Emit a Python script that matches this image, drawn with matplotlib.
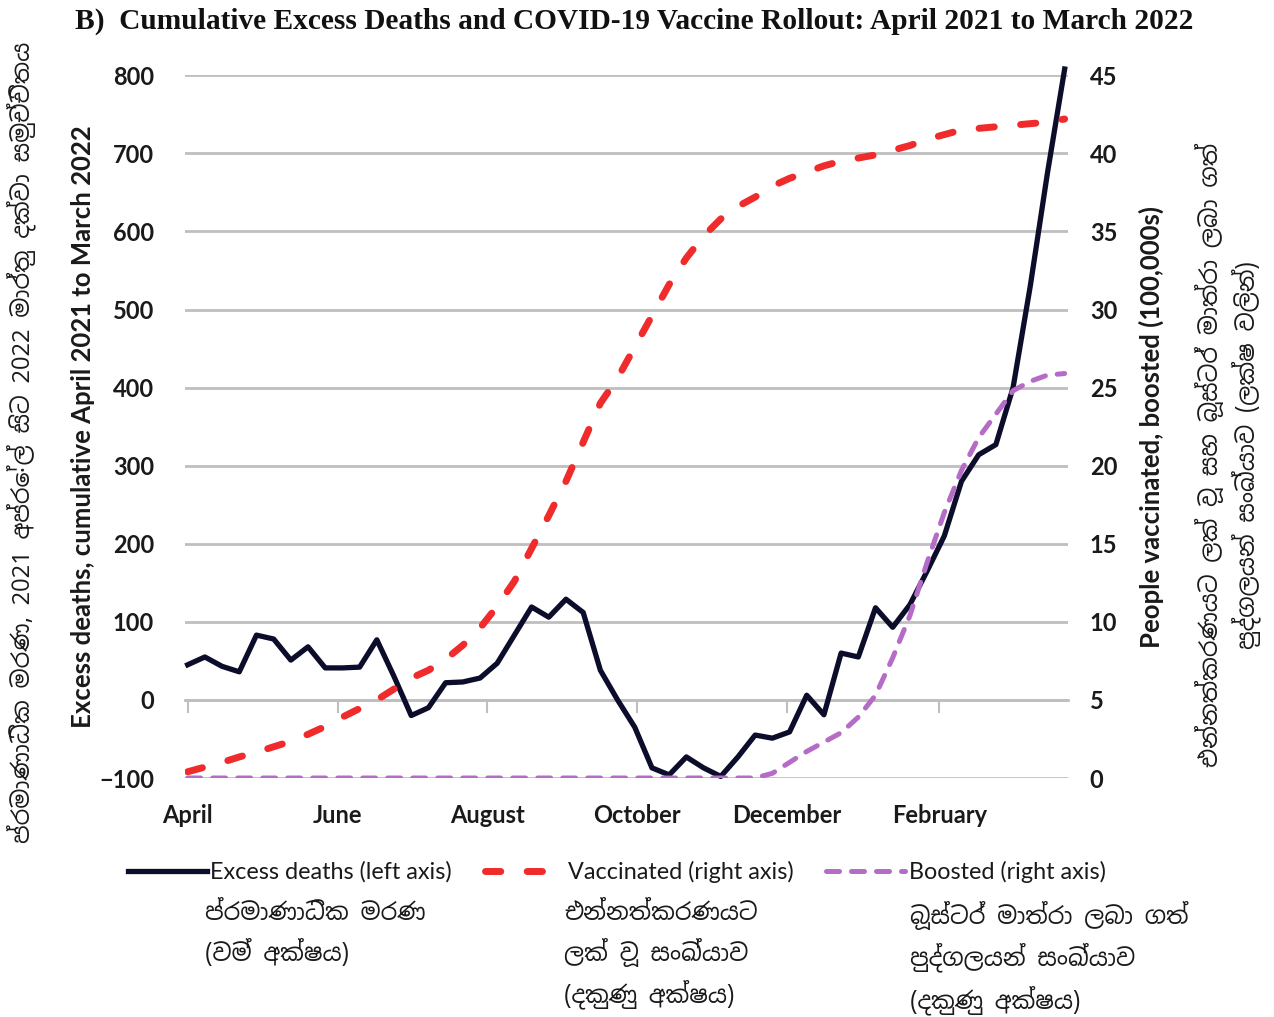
import pandas as pd
import matplotlib
matplotlib.use('Agg')
import matplotlib.pyplot as plt
import matplotlib.dates as mdates
from matplotlib import font_manager
from matplotlib.ft2font import FT2Font

# weekly series, April 2021 - March 2022
weeks = pd.date_range('2021-04-01', periods=52, freq='7D')

excess_deaths = [45, 55, 43, 36, 83, 78, 51, 68, 41, 41, 42, 77, 30, -20, -10, 22,
                 23, 28, 47, 83, 119, 106, 129, 112, 38, 0, -35, -87, -96, -73, -87, -98,
                 -73, -45, -49, -41, 6, -19, 60, 55, 118, 93, 122, 165, 210, 280,
                 314, 327, 400, 530, 675, 808]

vaccinated = [0.4, 0.7, 1.0, 1.35, 1.65, 2.0, 2.35, 2.8, 3.3, 3.9, 4.45, 5.0, 5.7, 6.4,
              6.9, 7.6, 8.5, 9.6, 11.0, 12.6, 14.7, 16.8, 19.0, 21.5, 24.0, 25.6, 27.6,
              29.6, 31.6, 33.3, 34.7, 35.8, 36.6, 37.2, 37.9, 38.4, 38.8, 39.2, 39.5,
              39.7, 39.9, 40.2, 40.5, 40.9, 41.2, 41.5, 41.6, 41.7, 41.8, 41.9, 42.0, 42.2]

boosted = [0] * 34 + [0.3, 1.0, 1.7, 2.3, 2.9, 3.9, 5.3, 7.7, 10.4, 13.8, 17.0, 19.7,
                      21.8, 23.3, 24.8, 25.4, 25.8, 25.9]

month_ticks = pd.to_datetime(['2021-04-01', '2021-06-01', '2021-08-01',
                              '2021-10-01', '2021-12-01', '2022-02-01'])
month_labels = ['April', 'June', 'August', 'October', 'December', 'February']

title = 'B)  Cumulative Excess Deaths and COVID-19 Vaccine Rollout: April 2021 to March 2022'
left_label = 'Excess deaths, cumulative April 2021 to March 2022'
right_label = 'People vaccinated, boosted (100,000s)'
legend_labels = ['Excess deaths (left axis)', 'Vaccinated (right axis)', 'Boosted (right axis)']

# Sinhala translations (zero width joiners dropped, no shaping engine to use them)
si_left = 'ප්රමාණාධික මරණ, 2021 අප්රේල් සිට 2022 මාර්තු දක්වා සමුච්චිතය'
si_right = 'එන්නත්කරණයට ලක් වූ සහ බූස්ටර් මාත්රා ලබා ගත්\nපුද්ගලයන් සංඛ්යාව (ලක්ෂ වලින්)'
si_notes = ['ප්රමාණාධික මරණ\n(වම් අක්ෂය)',
            'එන්නත්කරණයට\nලක් වූ සංඛ්යාව\n(දකුණු අක්ෂය)',
            'බූස්ටර් මාත්රා ලබා ගත්\nපුද්ගලයන් සංඛ්යාව\n(දකුණු අක්ෂය)']


def sinhala_font():
    # pick an installed font that has Sinhala letters, prefer a proportional one
    found = []
    for f in font_manager.fontManager.ttflist:
        try:
            cmap = FT2Font(f.fname).get_charmap()
        except Exception:
            continue
        if ord('ම') in cmap and ord('ක') in cmap:
            found.append(f)
    if not found:
        return 'DejaVu Sans'
    found.sort(key=lambda f: ('mono' in f.name.lower(), 'sinhala' not in f.name.lower(),
                              f.weight not in (400, 'normal', 'regular'), f.style != 'normal'))
    return found[0].name


si_family = [sinhala_font(), 'DejaVu Sans']

plt.rcParams['font.family'] = ['Lato', 'DejaVu Sans']
grid_c = '#bfbfbf'
text_c = '#1a1a1a'

x = mdates.date2num(weeks)
xt = mdates.date2num(month_ticks)

fig = plt.figure(figsize=(12.74, 10.17), dpi=100)
ax = fig.add_axes([0.145, 0.235, 0.693, 0.691])
ax2 = ax.twinx()

l1, = ax.plot(x, excess_deaths, color='#0b0d2a', lw=3.8, solid_joinstyle='round',
              zorder=3, clip_on=False)
l2, = ax2.plot(x, vaccinated, color='#f02b2b', lw=5, dash_capstyle='round',
               dashes=(2.2, 3.8), zorder=3)
l3, = ax2.plot(x, boosted, color='#b56cc6', lw=3.6, dash_capstyle='round',
               dashes=(2.6, 2.4), zorder=4)

ax.set_xlim(x[0] - 1.2, x[-1] + 1.2)
ax.set_ylim(-100, 800)
ax.set_yticks(range(-100, 801, 100))
ax2.set_ylim(0, 45)
ax2.set_yticks(range(0, 46, 5))

ax.grid(axis='y', color=grid_c, lw=2)
ax.set_axisbelow(True)
for s in ['left', 'right', 'top']:
    ax.spines[s].set_visible(False)
    ax2.spines[s].set_visible(False)
ax2.spines['bottom'].set_visible(False)
ax.spines['bottom'].set_position(('data', 0))
ax.spines['bottom'].set_color(grid_c)
ax.spines['bottom'].set_linewidth(2)

ax.set_xticks(xt)
ax.tick_params(axis='x', length=9, width=1.5, color=grid_c, labelbottom=False)
ax.tick_params(axis='y', length=0, pad=22, labelsize=17, labelcolor=text_c)
ax2.tick_params(axis='y', length=0, pad=16, labelsize=17, labelcolor=text_c)
for t in ax.get_yticklabels() + ax2.get_yticklabels():
    t.set_fontweight('bold')

# month labels sit at the bottom of the plot area
secx = ax.secondary_xaxis('bottom')
secx.set_xticks(xt, labels=month_labels)
secx.tick_params(length=0, pad=19, labelsize=17, labelcolor=text_c)
secx.spines['bottom'].set_visible(False)
for t in secx.get_xticklabels():
    t.set_fontweight('bold')

ax.set_ylabel(left_label, fontsize=18.5, fontweight='bold', color=text_c, labelpad=3)
ax2.set_ylabel(right_label, fontsize=18.5, fontweight='bold', color=text_c, labelpad=15)

fig.text(0.059, 0.979, title, fontfamily='Liberation Serif', fontweight='bold',
         fontsize=21.2, va='center', ha='left', color='#111111')

fig.legend([l1, l2, l3], legend_labels, loc='center', bbox_to_anchor=(0.484, 0.1426),
           ncol=3, frameon=False, fontsize=16.8, handlelength=3.4, handletextpad=0.15,
           columnspacing=1.4, labelcolor=text_c)

fig.text(0.017, 0.565, si_left, rotation=90, ha='center', va='center',
         fontsize=17, family=si_family, color=text_c)
fig.text(0.964, 0.553, si_right, rotation=90, ha='center', va='center', multialignment='center',
         fontsize=17, family=si_family, color=text_c, linespacing=1.3)
for xpos, note in zip([0.161, 0.443, 0.714], si_notes):
    fig.text(xpos, 0.114, note, ha='left', va='top', fontsize=17, family=si_family,
             color=text_c, linespacing=1.55)

fig.savefig('out.png', dpi=100, facecolor='white')
